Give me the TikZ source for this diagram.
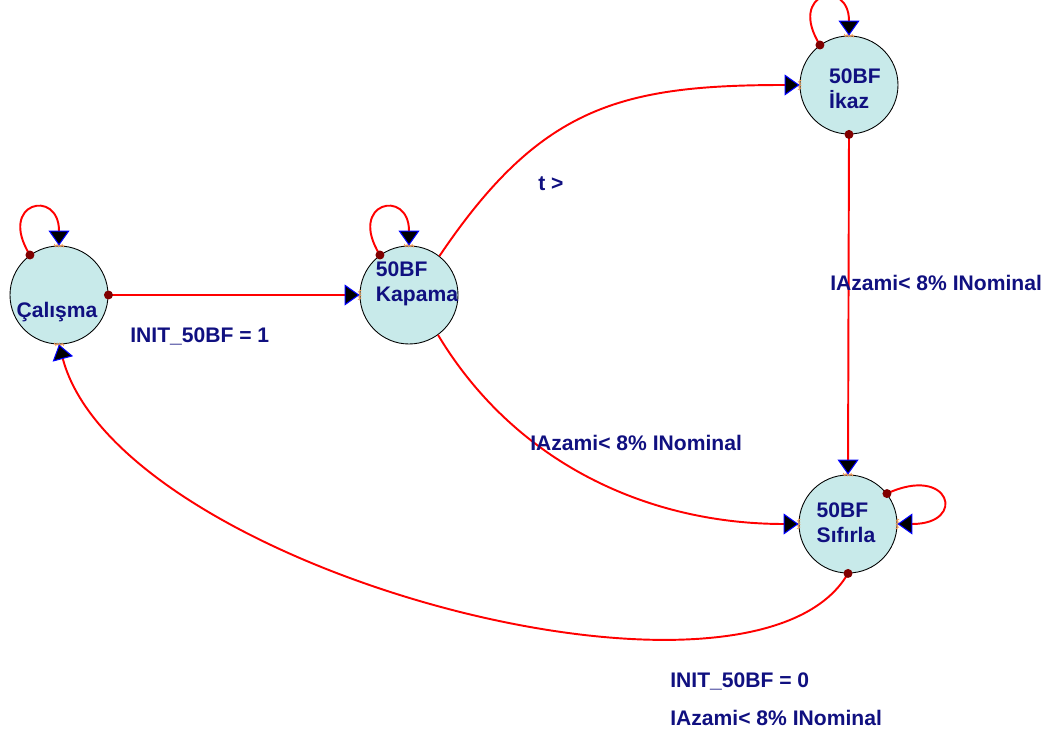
\documentclass[tikz,border=0pt]{standalone}
\usepackage{fontspec}
\setmainfont{Liberation Sans}
\usepackage{xcolor}
\usetikzlibrary{arrows.meta,positioning,calc,decorations.pathmorphing}

\definecolor{statefill}{RGB}{200,234,234}
\definecolor{navytext}{RGB}{16,16,128}
\definecolor{dotred}{RGB}{128,0,0}
\definecolor{squigorange}{RGB}{240,150,80}

\begin{document}
\begin{tikzpicture}[
    stnode/.style={
        draw,
        circle,
        fill=statefill,
        line width=0.5pt,
        minimum size=1.96cm,
        inner sep=0pt
    },
    statetext/.style={
        font=\bfseries\fontsize{12}{14}\selectfont,
        text=navytext,
        align=left
    },
    lbl/.style={
        font=\bfseries\fontsize{12}{14}\selectfont,
        text=navytext,
        anchor=base west,
        inner sep=0pt
    },
    trans/.style={
        draw=red,
        line width=1.1pt,
        -{Triangle[length=0.3cm, width=0.42cm, color=blue, fill=black, line width=0.6pt]}
    },
    srcdot/.style={fill=dotred},
    squig/.style={
        draw=squigorange,
        line width=0.4pt,
        decorate,
        decoration={zigzag, segment length=0.05cm, amplitude=0.025cm}
    }
]
\useasboundingbox (0,0) rectangle (20.98,-14.76);

\node[stnode, label={[statetext, shift={(-0.04,-0.34)}]center:Çalışma}] (calisma) at (1.18,-5.90) {};
\node[stnode, label={[statetext, shift={(0.16,0.22)}]center:50BF\\Kapama}] (kapama) at (8.18,-5.90) {};
\node[stnode, label={[statetext, shift={(0.12,-0.08)}]center:50BF\\İkaz}] (ikaz) at (16.98,-1.70) {};
\node[stnode, label={[statetext, shift={(-0.04,0.02)}]center:50BF\\Sıfırla}] (sifirla) at (16.96,-10.48) {};

\foreach \n in {calisma,kapama,ikaz,sifirla}
    \draw[squig] ([xshift=-0.1cm]\n.north) -- ([xshift=0.1cm]\n.north);
\draw[squig] ([xshift=-0.1cm]calisma.south) -- ([xshift=0.1cm]calisma.south);
\foreach \n/\a in {kapama/west, ikaz/west, sifirla/west, sifirla/east}
    \draw[squig] ([yshift=-0.1cm]\n.\a) -- ([yshift=0.1cm]\n.\a);

\draw[trans] (calisma.east) -- (kapama.west);
\draw[trans] (kapama.52) .. controls +(56:3.6) and +(-3.6,0) .. (ikaz.west);
\draw[trans] (kapama.-54) .. controls +(-59:3) and +(-3,0) .. (sifirla.west);
\draw[trans] (ikaz.south) -- (sifirla.north);
\draw[trans] (sifirla.south) .. controls +(-1.9,-3.3) and +(1.2,-4.5) .. (calisma.south);

\draw[trans] (calisma.126) .. controls +(122:1.25) and +(90:1.15) .. (calisma.north);
\draw[trans] (kapama.126) .. controls +(122:1.25) and +(90:1.15) .. (kapama.north);
\draw[trans] (ikaz.126) .. controls +(122:1.25) and +(90:1.15) .. (ikaz.north);
\draw[trans] (sifirla.38) .. controls +(25:1.4) and +(0:1.4) .. (sifirla.east);

\foreach \p in {calisma.east, calisma.126, kapama.126, ikaz.126, ikaz.south, sifirla.38, sifirla.south}
    \fill[srcdot] (\p) circle (0.09);

\node[lbl] (lblinit1) at (2.60,-6.86) {INIT\_50BF = 1};
\node[lbl] (lbltime) at (10.76,-3.82) {t >};
\node[lbl] (lblkapama) at (10.60,-9.02) {IAzami< 8\% INominal};
\node[lbl] (lblikaz) at (16.60,-5.82) {IAzami< 8\% INominal};
\node[lbl] (lblinit0) at (13.40,-13.74) {INIT\_50BF = 0};
\node[lbl] (lblreset) at (13.40,-14.50) {IAzami< 8\% INominal};
\end{tikzpicture}
\end{document}
